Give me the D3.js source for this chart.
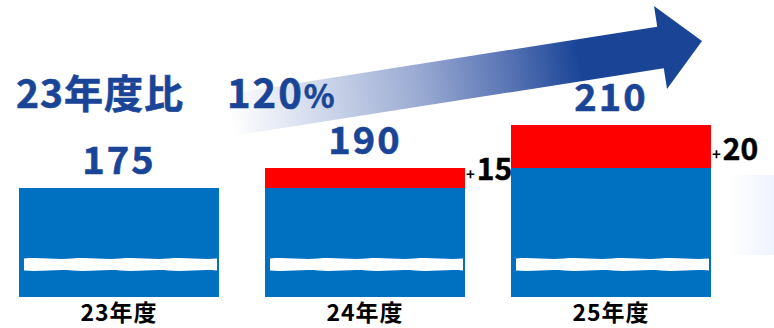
<!DOCTYPE html>
<html>
<head>
<meta charset="utf-8">
<script src="https://cdn.jsdelivr.net/npm/d3@7"></script>
<style>
  body { margin: 0; background: #fff; }
  text { font-family: "Noto Sans CJK JP", "Noto Sans", sans-serif; font-weight: 700; }
</style>
</head>
<body>
<div id="chart"></div>
<script>
const categories = ['23年度', '24年度', '25年度'];
const baseValues = [175, 175, 190];
const addValues = [0, 15, 20];
const totals = [175, 190, 210];
const ratioLabel = '23年度比';
const ratioValue = '120';

const width = 774,
  height = 328;

const svg = d3
  .select('#chart')
  .append('svg')
  .attr('width', width)
  .attr('height', height);

const defs = svg.append('defs');

// scales (broken axis, so a piecewise linear y)
const x = d3.scaleBand().domain(categories).range([19, 711]).paddingInner(0.187).paddingOuter(0);
const y = d3.scaleLinear().domain([0, 175, 190, 210]).range([297, 188, 168, 125]);

const blue = '#0070c0',
  red = '#ff0000',
  navy = '#1a4597';

// faint panel at the right edge
const fade = defs.append('linearGradient').attr('id', 'fade');
fade.append('stop').attr('offset', 0).attr('stop-color', '#ffffff');
fade.append('stop').attr('offset', 1).attr('stop-color', '#eef3fe');
svg.append('rect').attr('x', 728).attr('y', 175).attr('width', 46).attr('height', 80).attr('fill', 'url(#fade)');

// growth arrow
const a0 = [230, 115],
  a1 = [702, 41];
const L = Math.hypot(a1[0] - a0[0], a1[1] - a0[1]);
const ang = (Math.atan2(a1[1] - a0[1], a1[0] - a0[0]) * 180) / Math.PI;
const headLen = 42,
  shaft = 21,
  head = 42;

const grad = defs
  .append('linearGradient')
  .attr('id', 'arrowGrad')
  .attr('gradientUnits', 'userSpaceOnUse')
  .attr('x1', 0)
  .attr('x2', L)
  .attr('y1', 0)
  .attr('y2', 0);
[
  [0, '#ffffff'],
  [0.2, '#cdd6ea'],
  [0.4, '#9aaad2'],
  [0.58, '#5c77b6'],
  [0.74, navy],
  [1, navy]
].forEach((s) => grad.append('stop').attr('offset', s[0]).attr('stop-color', s[1]));

svg
  .append('g')
  .attr('transform', `translate(${a0[0]},${a0[1]}) rotate(${ang})`)
  .append('path')
  .attr('fill', 'url(#arrowGrad)')
  .attr(
    'd',
    `M0,${-shaft}L${L - headLen},${-shaft}L${L - headLen},${-head}L${L},0L${L - headLen},${head}L${L - headLen},${shaft}L0,${shaft}Z`
  );

// bars
const bars = svg.append('g');
bars
  .selectAll('.base')
  .data(categories)
  .join('rect')
  .attr('x', (d) => x(d))
  .attr('width', x.bandwidth())
  .attr('y', (d, i) => y(baseValues[i]))
  .attr('height', (d, i) => y(0) - y(baseValues[i]))
  .attr('fill', blue);

bars
  .selectAll('.add')
  .data(categories)
  .join('rect')
  .attr('x', (d) => x(d))
  .attr('width', x.bandwidth())
  .attr('y', (d, i) => y(totals[i]))
  .attr('height', (d, i) => y(baseValues[i]) - y(totals[i]))
  .attr('fill', red)
  .attr('display', (d, i) => (addValues[i] > 0 ? null : 'none'));

// wavy break band
function wave(x0, x1, yTop, yBot) {
  const w = x1 - x0;
  const n = 4;
  let p = `M${x0},${yTop}`;
  for (let k = 0; k < n; k++) {
    const s = x0 + (w * k) / n,
      e = x0 + (w * (k + 1)) / n;
    p += `C${s + w / n / 3},${yTop - 1.5} ${s + (2 * w) / n / 3},${yTop + 1.5} ${e},${yTop}`;
  }
  p += `L${x1},${yBot}`;
  for (let k = n; k > 0; k--) {
    const s = x0 + (w * k) / n,
      e = x0 + (w * (k - 1)) / n;
    p += `C${s - w / n / 3},${yBot - 1.5} ${s - (2 * w) / n / 3},${yBot + 1.5} ${e},${yBot}`;
  }
  return p + 'Z';
}
bars
  .selectAll('.brk')
  .data(categories)
  .join('path')
  .attr('fill', '#fff')
  .attr('d', (d) => wave(x(d) + 5, x(d) + x.bandwidth() - 2, 258.5, 270.5));

// total labels
svg
  .selectAll('.total')
  .data(categories)
  .join('text')
  .attr('x', (d) => x(d) + x.bandwidth() / 2)
  .attr('y', (d, i) => y(totals[i]) - 14)
  .attr('text-anchor', 'middle')
  .attr('font-size', 38)
  .attr('letter-spacing', 2)
  .attr('stroke', navy)
  .attr('stroke-width', 0.6)
  .attr('fill', navy)
  .text((d, i) => totals[i]);

// increment labels
const inc = svg
  .selectAll('.inc')
  .data(categories.filter((d, i) => addValues[i] > 0))
  .join('text')
  .attr('x', (d) => x(d) + x.bandwidth() + 1)
  .attr('y', (d) => y(baseValues[categories.indexOf(d)]) - 8)
  .attr('fill', '#000');
inc.append('tspan').attr('font-size', 15).text('+');
inc
  .append('tspan')
  .attr('font-size', 30)
  .attr('dx', 2)
  .attr('stroke', '#000')
  .attr('stroke-width', 0.5)
  .text((d) => addValues[categories.indexOf(d)]);

// category labels
svg
  .selectAll('.cat')
  .data(categories)
  .join('text')
  .attr('x', (d) => x(d) + x.bandwidth() / 2)
  .attr('y', 321)
  .attr('text-anchor', 'middle')
  .attr('font-size', 23)
  .attr('letter-spacing', 1)
  .attr('fill', '#000')
  .text((d) => d);

// headline
svg
  .append('text')
  .attr('x', 16)
  .attr('y', 108)
  .attr('font-size', 39)
  .attr('letter-spacing', 1)
  .attr('stroke', navy)
  .attr('stroke-width', 0.6)
  .attr('fill', navy)
  .text(ratioLabel);

const pct = svg
  .append('text')
  .attr('x', 227)
  .attr('y', 108)
  .attr('fill', navy)
  .attr('stroke', navy)
  .attr('stroke-width', 0.6);
pct.append('tspan').attr('font-size', 40).attr('letter-spacing', 2).text(ratioValue);
pct.append('tspan').attr('font-size', 32).text('%');
</script>
</body>
</html>
